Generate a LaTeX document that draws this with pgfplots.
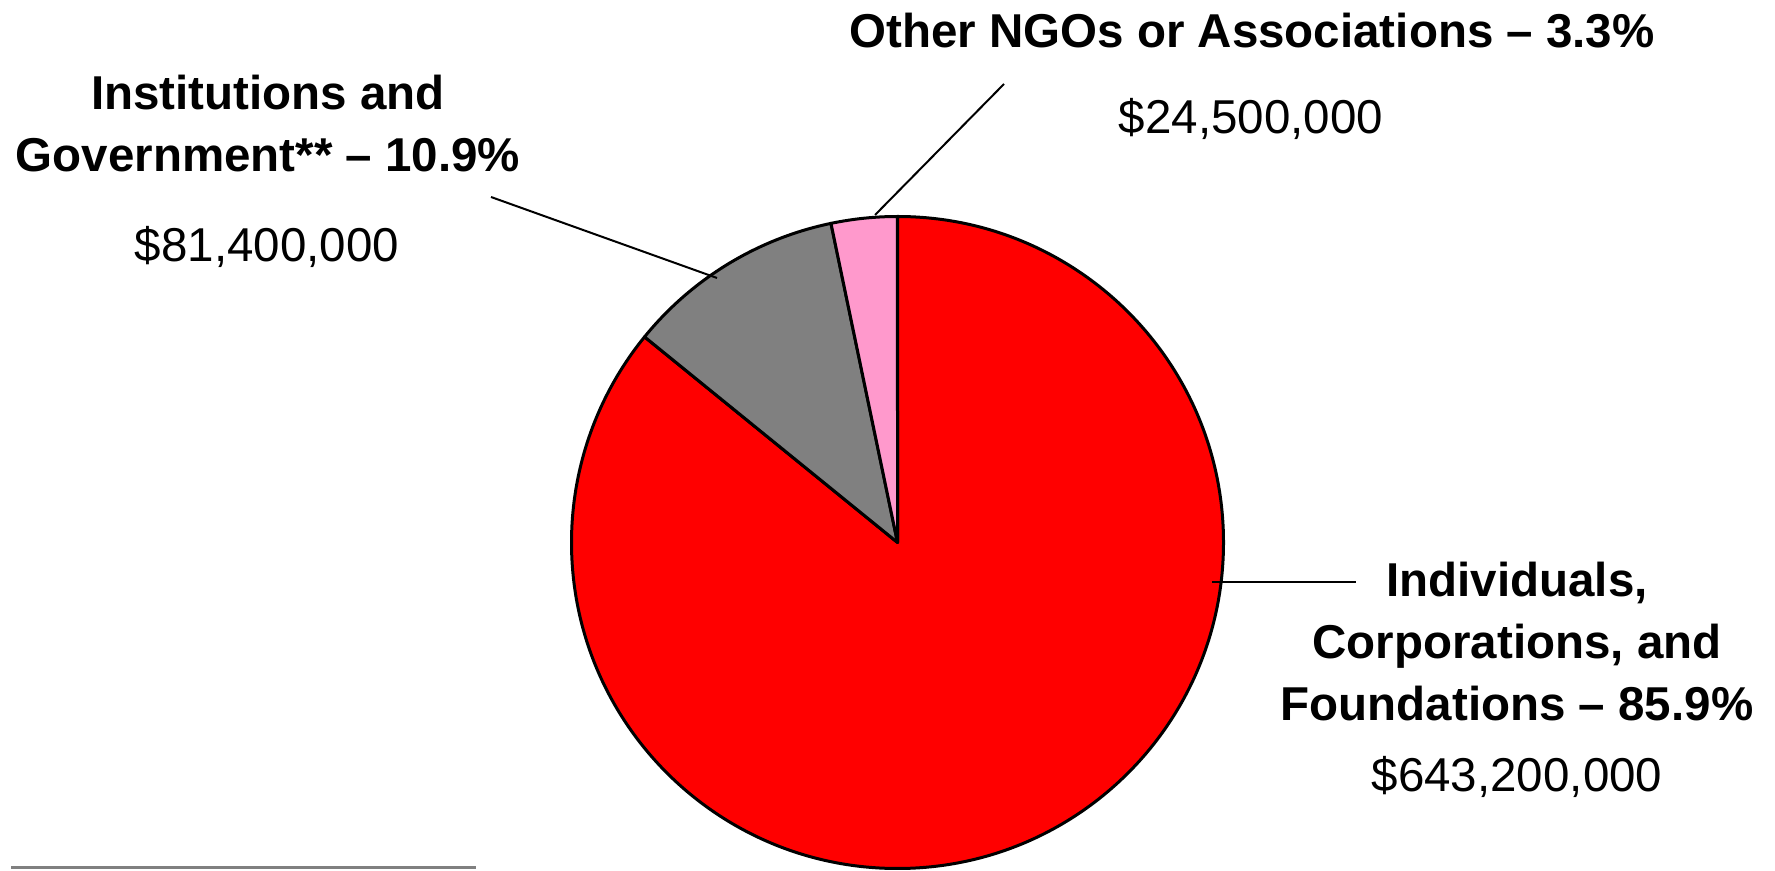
\documentclass[border=0pt]{standalone}
\usepackage{pgfplots}
\pgfplotsset{compat=1.18}
\usepackage{pgfplotstable}
\usepackage{fontspec}
\setmainfont{Liberation Sans}
\definecolor{pieRed}{HTML}{FF0000}
\definecolor{pieGray}{HTML}{808080}
\definecolor{piePink}{HTML}{FF99CC}
\pgfplotstableread{
source value
Individuals 643.2
Institutions 81.4
Other 24.5
}\piedata
\begin{document}%
\begin{tikzpicture}
\pgfplotstablegetelem{0}{value}\of\piedata \let\vA\pgfplotsretval
\pgfplotstablegetelem{1}{value}\of\piedata \let\vB\pgfplotsretval
\pgfplotstablegetelem{2}{value}\of\piedata \let\vC\pgfplotsretval
\pgfmathsetmacro\tot{\vA+\vB+\vC}
\pgfmathsetmacro\fA{\vA/\tot}
\pgfmathsetmacro\fB{\vB/\tot}
\pgfmathsetmacro\fC{\vC/\tot}
\pgfmathsetmacro\aA{90-360*\fA}
\pgfmathsetmacro\aB{\aA-360*\fB}
\pgfmathsetmacro\aC{\aB-360*\fC}
\useasboundingbox (0,0) rectangle (887.5bp,435.5bp);
\begin{axis}[scale only axis, width=887.5bp, height=435.5bp,
  at={(0,0)}, anchor=south west,
  xmin=0, xmax=1775, ymin=0, ymax=871, hide axis, clip=false]
% slices
\filldraw[fill=pieRed, draw=black, line width=1.5bp, line join=round]
  (axis cs:897.5,328.5) -- ++(90:163bp) arc[start angle=90, end angle=\aA, radius=163bp] -- cycle;
\filldraw[fill=pieGray, draw=black, line width=1.5bp, line join=round]
  (axis cs:897.5,328.5) -- ++(\aA:163bp) arc[start angle=\aA, end angle=\aB, radius=163bp] -- cycle;
\filldraw[fill=piePink, draw=black, line width=1.5bp, line join=round]
  (axis cs:897.5,328.5) -- ++(\aB:163bp) arc[start angle=\aB, end angle=\aC, radius=163bp] -- cycle;
% leader lines
\draw[line width=1bp] (axis cs:1004,787) -- (axis cs:875,656);
\draw[line width=1bp] (axis cs:491,674) -- (axis cs:717,593);
\draw[line width=1bp] (axis cs:1212,289) -- (axis cs:1356,289);
% separator
\draw[pieGray, line width=1.5bp] (axis cs:11,3) -- (axis cs:476,3);
% labels
\tikzset{lb/.style={anchor=base, inner sep=0pt, font=\fontsize{23.75bp}{31bp}\selectfont\bfseries},
         lv/.style={anchor=base, inner sep=0pt, font=\fontsize{23.75bp}{31bp}\selectfont}}
\node[lb] at (axis cs:1252,823.5) {Other NGOs or Associations -- 3.3\%};
\node[lv] at (axis cs:1251,737.4) {\$24,500,000};
\node[lb] at (axis cs:268,761) {Institutions and};
\node[lb] at (axis cs:268,699) {Government** -- 10.9\%};
\node[lv] at (axis cs:267,609.5) {\$81,400,000};
\node[lb] at (axis cs:1517,274) {Individuals,};
\node[lb] at (axis cs:1517,212) {Corporations, and};
\node[lb] at (axis cs:1517,150) {Foundations -- 85.9\%};
\node[lv] at (axis cs:1517,79) {\$643,200,000};
\end{axis}
\end{tikzpicture}%
\end{document}
